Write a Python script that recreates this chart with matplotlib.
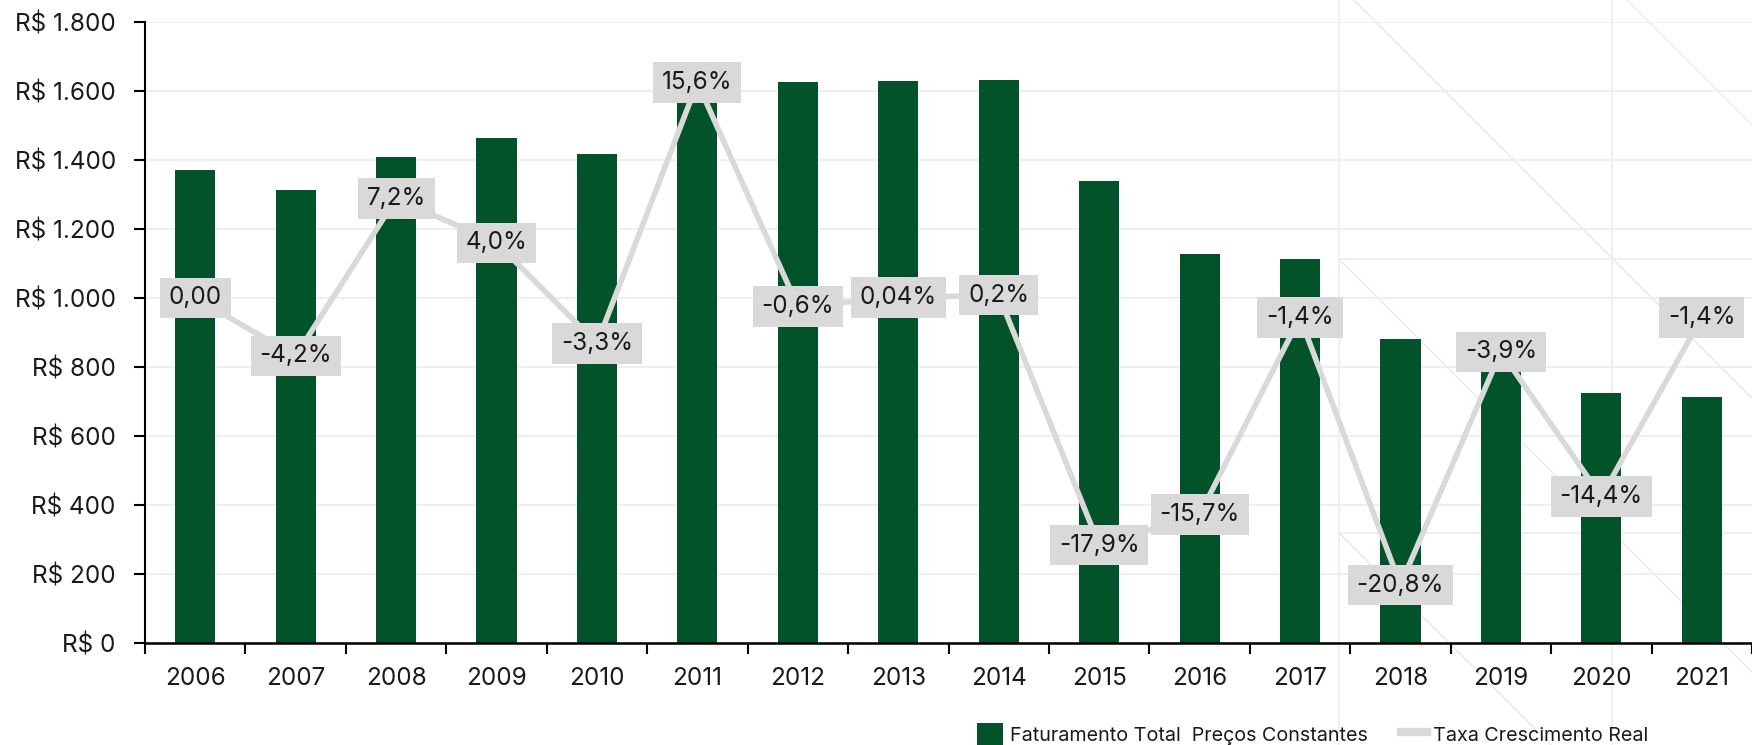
import matplotlib
matplotlib.use("Agg")
import matplotlib.pyplot as plt
from matplotlib.patches import Patch
from matplotlib.lines import Line2D
from matplotlib.ticker import FuncFormatter, FixedLocator
import numpy as np

anos = ["2006", "2007", "2008", "2009", "2010", "2011", "2012", "2013",
        "2014", "2015", "2016", "2017", "2018", "2019", "2020", "2021"]
faturamento = [1371, 1313, 1408, 1464, 1416, 1636, 1626, 1628,
               1631, 1339, 1128, 1112, 880, 846, 724, 714]
taxa = [0.0, -4.2, 7.2, 4.0, -3.3, 15.6, -0.6, 0.04,
        0.2, -17.9, -15.7, -1.4, -20.8, -3.9, -14.4, -1.4]
taxa_rotulos = ["0,00", "-4,2%", "7,2%", "4,0%", "-3,3%", "15,6%", "-0,6%", "0,04%",
                "0,2%", "-17,9%", "-15,7%", "-1,4%", "-20,8%", "-3,9%", "-14,4%", "-1,4%"]

VERDE = "#02532a"
CINZA = "#d9d9d9"
FONTE = ["Inter", "DejaVu Sans"]

plt.rcParams["font.family"] = FONTE

W, H = 1752, 745
fig = plt.figure(figsize=(W / 100, H / 100), dpi=100)

# decorative background lines (pixel coords, y down)
bg = fig.add_axes([0, 0, 1, 1], zorder=-5)
bg.set_xlim(0, W)
bg.set_ylim(H, 0)
bg.axis("off")
lc = "#ececec"
for x0 in (1339, 1612):
    bg.plot([x0, x0], [0, H], color=lc, lw=1.2)
for y0 in (259, 533):
    bg.plot([1339, W], [y0, y0], color=lc, lw=1.2)
for c in (1354, 1627, 1080, 806):
    xs = np.array([1339, W])
    bg.plot(xs, xs - c, color=lc, lw=1.2)

ax = fig.add_axes([145 / W, 1 - 643 / H, (W - 145) / W, (643 - 22) / H])
ax.set_facecolor("none")
x = np.arange(len(anos))

ax.bar(x, faturamento, width=0.4, color=VERDE, zorder=2)
ax.set_xlim(-0.5, len(anos) - 0.5)
ax.set_ylim(0, 1800)
ax.set_yticks(np.arange(0, 1801, 200))
ax.yaxis.set_major_formatter(FuncFormatter(lambda v, p: "R$ " + f"{int(v):,}".replace(",", ".")))
ax.grid(axis="y", color="#efefef", lw=1.5, zorder=0)
ax.set_axisbelow(True)

ax.set_xticks(x)
ax.set_xticklabels(anos)
ax.xaxis.set_minor_locator(FixedLocator(np.arange(-0.5, len(anos), 1.0)))
ax.tick_params(axis="x", which="major", length=0, pad=17, labelsize=17.5, colors="#1a1a1a")
ax.tick_params(axis="x", which="minor", length=8, width=1.5, color="black")
ax.tick_params(axis="y", length=8, width=1.5, pad=13, labelsize=17.5, colors="#1a1a1a")
ax.tick_params(axis="both", which="both", color="black")

for s in ("top", "right"):
    ax.spines[s].set_visible(False)
ax.spines["left"].set_linewidth(1.5)
ax.spines["bottom"].set_linewidth(1.8)

# growth rate on a hidden secondary axis
ax2 = ax.twinx()
ax2.set_ylim(-25, 20)
ax2.axis("off")
ax2.plot(x, taxa, color=CINZA, lw=4, zorder=3, solid_joinstyle="miter")
for xi, v, r in zip(x, taxa, taxa_rotulos):
    ax2.text(xi, v, r, ha="center", va="center", fontsize=17.5, color="#1a1a1a", zorder=4,
             bbox=dict(boxstyle="square,pad=0.36", fc=CINZA, ec="none"))

handles = [Patch(facecolor=VERDE, edgecolor="none"),
           Line2D([0], [0], color=CINZA, lw=6)]
fig.legend(handles, ["Faturamento Total  Preços Constantes", "Taxa Crescimento Real"],
           loc="center left", bbox_to_anchor=(977 / W, 1 - 734 / H), ncol=2,
           frameon=False, fontsize=14.2, borderpad=0, borderaxespad=0,
           handlelength=1.3, handleheight=1.3, handletextpad=0.35, columnspacing=1.7,
           labelcolor="#1a1a1a")

fig.savefig("out.png", dpi=100)
